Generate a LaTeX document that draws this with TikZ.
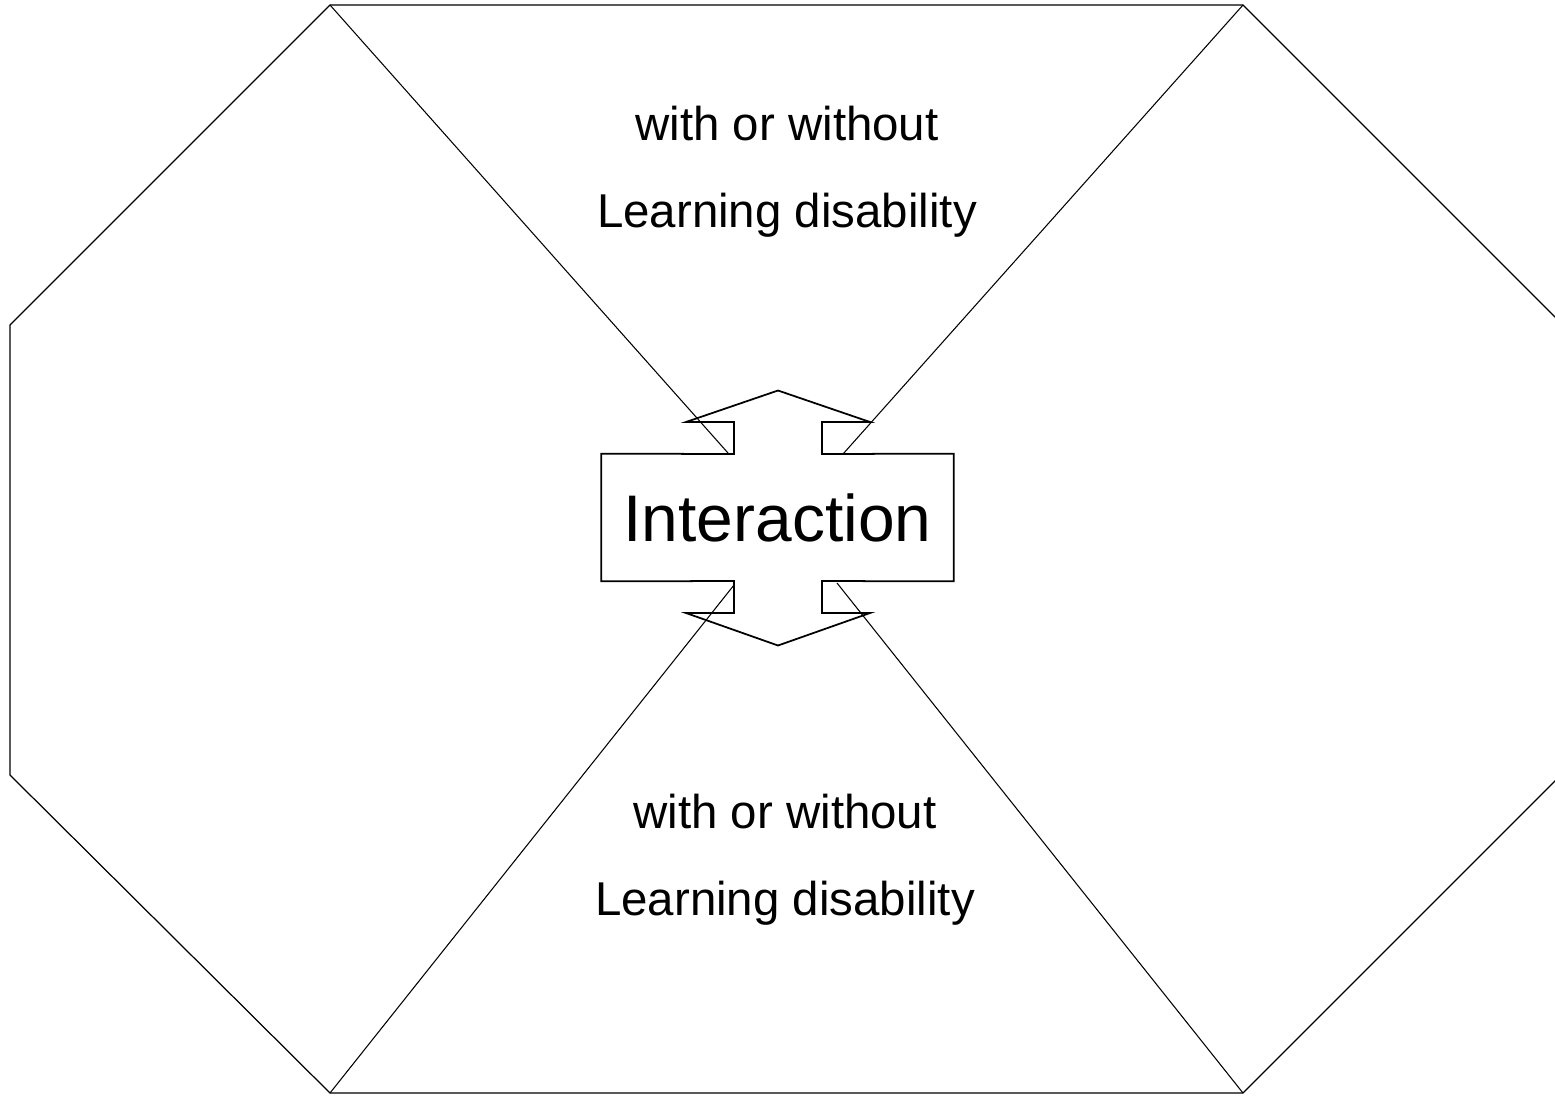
\documentclass[tikz,border=0pt]{standalone}
\usepackage{fontspec}
\setsansfont{Liberation Sans}
\usetikzlibrary{positioning}

\begin{document}
\begin{tikzpicture}[x=0.2mm, y=-0.2mm, frame/.style={line width=0.7pt, line join=miter}, link/.style={line width=0.6pt}, arrowbox/.style={line width=1pt, line join=miter}, caption/.style={font=\sffamily\fontsize{27}{49.5}\selectfont, align=center}]

\useasboundingbox (0,0) rectangle (1555,1095);

% Octagon corners (right side runs off the page)
\coordinate (top left) at (330,5);
\coordinate (top right) at (1243,5);
\coordinate (right up) at (1563,325);
\coordinate (right down) at (1563,773);
\coordinate (bottom right) at (1243,1093);
\coordinate (bottom left) at (330,1093);
\coordinate (left down) at (10,775);
\coordinate (left up) at (10,325);

% Octagon
\begin{scope}
\clip (0,0) rectangle (1555,1095);
\draw[frame] (top left) -- (top right) -- (right up) -- (right down) -- (bottom right) -- (bottom left) -- (left down) -- (left up) -- cycle;
\end{scope}

% Centre block with double arrow
\node[font=\sffamily\fontsize{37.5}{45}\selectfont, minimum width=352*0.2mm, minimum height=127*0.2mm, inner sep=0pt] (inter) at (777.5,517.5) {Interaction};
\draw[arrowbox] (inter.north west) -- (734,454) -- (734,422) -- (686,422) -- (778,390.5) -- (870,422) -- (822,422) -- (822,454) -- (inter.north east) -- (inter.south east) -- (822,581) -- (822,613) -- (870,613) -- (778,645.5) -- (686,613) -- (734,613) -- (734,581) -- (inter.south west) -- cycle;

% Where the lines meet the block
\coordinate (meet tl) at (728,453);
\coordinate (meet tr) at (843,454);
\coordinate (meet bl) at (734,585);
\coordinate (meet br) at (837,583);

% Lines to the block
\draw[link] (top left) -- (meet tl);
\draw[link] (top right) -- (meet tr);
\draw[link] (bottom left) -- (meet bl);
\draw[link] (bottom right) -- (meet br);

% Captions
\node[caption] (upper) at (787,172) {with or without\\Learning disability};
\node[caption] (lower) at (785,860) {with or without\\Learning disability};

\end{tikzpicture}
\end{document}
